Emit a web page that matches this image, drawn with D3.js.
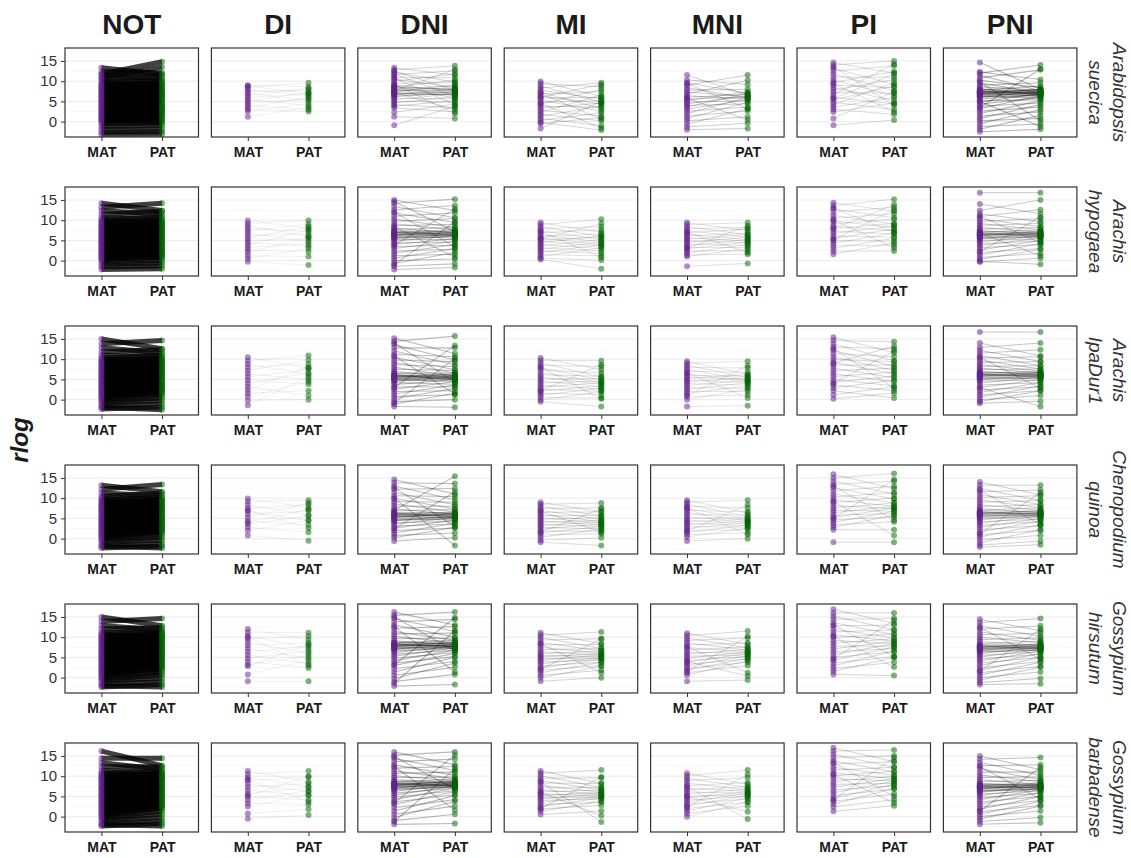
<!DOCTYPE html>
<html>
<head>
<meta charset="utf-8">
<script src="https://cdn.jsdelivr.net/npm/d3@7"></script>
<style>
  body { margin: 0; background: #fff; }
  text { font-family: "Liberation Sans", Arial, sans-serif; }
</style>
</head>
<body>
<script>

// facet columns / rows
var classes = ["NOT", "DI", "DNI", "MI", "MNI", "PI", "PNI"];
var species = [["Arabidopsis", "suecica"], ["Arachis", "hypogaea"], ["Arachis", "IpaDur1"],
               ["Chenopodium", "quinoa"], ["Gossypium", "hirsutum"], ["Gossypium", "barbadense"]];
var parents = ["MAT", "PAT"];
var yTicks = [0, 5, 10, 15];
var yMinor = [-2.5, 2.5, 7.5, 12.5, 17.5];

// approx. number of genes behind each panel (rows = species, cols = classes)
var geneCounts = [
    [16000, 40, 400, 250, 350, 180, 1400],
    [17000, 30, 900, 150, 140, 150, 600],
    [17000, 35, 1000, 150, 120, 220, 700],
    [13000, 30, 900, 180, 120, 200, 500],
    [19000, 40, 1300, 250, 200, 250, 700],
    [19000, 35, 1300, 250, 150, 250, 900]
];

var suecica = [
    "13.3,11.7 12.3,12.1 11.5,10.7 10.7,11.3 10.1,9.9 9.7,10.1 9.3,9.2 9,9.5 8.6,8.9 8.4,8.5 8,8.3 7.8,7.8 7.4,7.6 7.1,7.3 6.9,6.8 6.5,6.9 6.3,6.2 5.9,6.4 5.7,5.7 5.3,5.8 5.1,5 4.8,5.2 4.4,4.6 4.2,4.3 3.9,3.8 3.5,4 3.3,3.2 2.9,3.4 2.7,2.6 2.4,2.9 2,2.1 1.8,2.3 1.5,1.5 1.1,1.6 0.9,0.8 0.6,1 0.2,0.3 0,0 -0.5,-0.4 -1.2,-1 -1.9,-1.8 -2.6,-2.5 -3.2,-3.1 11.8,14.8 10.9,13.5",
    "9,8.6 8.5,9.6 8,6.4 7.5,7.8 7,5.2 6.5,8.2 6,6.8 5.5,4 5,7.2 4.5,5.6 4,3 3.5,6 3,2.5 2.5,4.6 1.2,3.5 8.8,7",
    "13.3,11.5 12.8,13.8 12.2,9.8 11.6,12.6 11,10.8 10.5,8.5 10,11.8 9.5,9.6 9,7.6 8.6,10.2 8.2,8.8 7.8,7.2 7.4,9.1 7,6.6 6.6,8 6.2,7.4 5.8,5.6 5.4,6.9 5,4.8 4.6,6.2 4.2,3.4 3.8,5.2 3.4,2.4 2.3,4.3 1.2,0.8 -0.9,3.8 7.6,12.9 9.2,2 11.8,6.2 12.5,7.7 8.8,5.8 7.2,3 10.8,4.2 7.9,7.6 7.5,8 7.2,7.1 6.8,7.4 8.3,8.1 6.5,6.8 8.6,7.9 7,6.6 7.7,8.4 6.2,7",
    "9.9,6.2 9.4,8.6 8.8,4.8 8.3,9.6 7.8,5.6 7.3,3.2 6.8,7.4 6.3,4.4 5.8,6 5.3,2.6 4.8,5.2 4.3,8 3.8,3.6 3.3,4.6 2.8,1.4 2.3,6.6 1.8,0.2 1.3,3.9 0.8,-1 0.3,2.2 -0.2,-2.1 -0.5,1 -1.7,5 6,9.2 4.5,-1.6 7,0.6",
    "11.5,6.5 10.3,9.2 9.6,7 9,11.5 8.4,5.8 7.8,8 7.3,6.2 6.8,10.2 6.4,5.6 6,6.8 5.6,6 5.2,7.4 4.8,5.2 4.4,6.4 4,4.4 3.6,7 3.1,5.4 2.6,3.6 2,6 1.4,2.6 0.8,4.8 0.2,1.2 -0.6,3.2 -1.3,-0.4 -2,-1.7 9.4,3.2 5.8,0.4",
    "14.6,12 14,15 13.2,9.2 12.5,13.8 11.8,7.6 11,11 10.3,6.4 9.7,12.4 9,8.4 8.4,5.2 7.8,10.4 7.2,7 6.6,14.2 6,4.4 5.4,8.8 4.8,3 4.2,9.6 3.6,6 3,1.8 2.4,4.6 0.8,7.4 -0.9,0.4 13.5,4 9.4,2.4 5.7,11.8",
    "14.6,8 12.3,10.4 11.5,7.6 10.8,12.8 10.2,8.4 9.6,7 9,9.6 8.6,7.8 8.2,6.6 7.8,8.8 7.5,7.2 7.2,6.2 6.9,8 6.6,7 6.3,5.8 6,7.6 5.6,6.6 5.2,5.4 4.8,7 4.3,6 3.8,4.6 3.2,6.4 2.6,3.6 2,5.2 1.4,2.4 0.8,4.2 0.2,0.8 -0.5,3 -1.2,-0.6 -1.9,1.6 -2.5,-1.9 12,14 3.5,13 9.8,0.2 5,-1.2 7.3,7.1 7,7.4 7.6,7.5 6.7,6.9 7.9,7.7 6.4,6.7 7.2,7.9 7.5,6.8 6.1,6.5 6.9,7.2"
];
var hypogaea = [
    "14.2,12.4 13.2,14.2 12.3,11.5 11.4,12.2 10.6,10.5 10.1,10.9 9.7,9.6 9.4,9.9 9,9.1 8.7,9.3 8.4,8.5 8,8.8 7.8,7.9 7.4,8.1 7.2,7.3 6.8,7.5 6.6,6.7 6.2,6.9 6,6.1 5.6,6.3 5.4,5.5 5,5.7 4.8,4.9 4.4,5.1 4.2,4.3 3.8,4.5 3.6,3.7 3.2,3.9 3,3.1 2.6,3.3 2.4,2.5 2,2.7 1.8,1.9 1.4,2.1 1.2,1.3 0.8,1.5 0.5,0.7 0.2,0.9 -0.3,0 -0.9,-0.6 -1.5,-1.3 -2.2,-2",
    "9.9,8 9.2,9.9 8.6,6 8,7.2 7.4,9 6.8,4.8 6.2,6.6 5.6,8.4 5,5.4 4.4,3.6 3.8,7.6 3.2,4.2 2.6,2.2 2,5.8 1.2,1 -0.3,-1.1 0.5,3",
    "15,12.4 14.2,15.2 13.4,10.6 12.6,13.6 11.8,9.4 11,11.8 10.3,8.2 9.7,10.4 9.1,7.6 8.6,9 8.1,6.8 7.7,8.2 7.3,6.4 6.9,7.6 6.5,6 6.2,7 5.9,5.6 5.6,6.6 5.2,5.2 4.8,6.2 4.4,4.6 4,5.4 3.5,3.8 3,4.8 2.4,2.8 1.8,4 1.2,1.6 0.6,3 0,0.4 -0.7,2 -1.4,-0.8 -2.2,-1.7 14.6,7.2 -1,9.6 12,3.4 3.8,12.8 8.4,0.8 6.8,6.5 6.4,6.9 7.1,6.8 6.1,6.3 7.4,7.2 5.8,6.1 6.6,7.3 7,6.2 5.5,5.9 6.3,6.6",
    "9.4,7 8.9,10.2 8.4,6 7.9,8.4 7.4,5.2 6.9,7.6 6.4,4.6 6,6.6 5.6,4 5.2,5.8 4.8,3.6 4.4,6.2 4,3 3.6,5.2 3.2,2.4 2.8,4.6 2.4,1.8 2,4 1.5,1.2 1,3.2 0.6,0.1 0.3,-2 5.4,9.2 7.2,0.8",
    "9.4,7.4 8.9,9.4 8.4,6.4 7.9,8.2 7.4,5.8 6.9,7.8 6.5,5.2 6.1,6.8 5.7,4.8 5.3,6.4 4.9,4.4 4.5,5.8 4.1,3.8 3.7,5.2 3.3,3.2 2.9,4.6 2.4,2.4 1.9,4 1.4,1.6 1,3 -1.4,-0.7 7,2 3,8.6",
    "14.3,12.2 13.6,15.2 12.8,10.6 12,13.2 11.2,9 10.5,11.6 9.8,8.2 9.1,10.2 8.5,7.4 7.9,9.2 7.3,6.6 6.7,8.6 6.1,5.8 5.5,7.8 4.9,4.8 4.3,6.8 3.7,3.8 3,5.6 2.3,2.4 1.6,4.4 13,7 8,13.8 5.2,12.6 10,3.2",
    "16.8,16.8 14,11.6 12.4,15 11.6,9.6 10.9,12.6 10.3,8.4 9.7,10.4 9.2,7.6 8.7,9.2 8.2,7 7.8,8.2 7.4,6.6 7,7.6 6.6,6.2 6.2,7.2 5.8,5.8 5.4,6.8 5,5.4 4.6,6.2 4.2,4.8 3.7,5.6 3.2,4 2.6,5 2,3 1.4,4.2 0.8,1.8 0.3,2.8 -0.3,0.6 -0.2,-0.9 11,4.4 2.2,10.8 6.8,1.2 6.6,6.4 6.3,6.8 6.9,6.7 6,6.2 7.2,7 5.7,6 6.5,7.1 6.8,6.1 5.4,5.8 6.2,6.5"
];
var ipadur = [
    "15,12.6 13.8,14.6 12.8,11.6 11.8,12.4 11,10.7 10.3,11.1 9.9,9.9 9.5,10.2 9.2,9.4 8.8,9.6 8.5,8.8 8.2,9 7.9,8.2 7.5,8.4 7.2,7.6 6.9,7.8 6.6,7 6.2,7.2 5.9,6.4 5.6,6.6 5.3,5.8 4.9,6 4.6,5.2 4.3,5.4 4,4.6 3.6,4.8 3.3,4 3,4.2 2.7,3.4 2.3,3.6 2,2.8 1.7,3 1.4,2.2 1,2.4 0.7,1.6 0.4,1.8 0,1 -0.4,0.4 -0.9,-0.3 -1.5,-1.1 -2.3,-1.8 -1.9,-2.5",
    "10.5,7.8 9.6,10.9 8.8,6.2 8,8.8 7.2,9.8 6.4,5 5.6,7.4 4.8,3.8 4,6.6 3.2,1 2.4,8 1.6,2.2 0.8,4.4 -0.2,0 -1.4,5.6",
    "15.2,11.4 14.4,15.7 13.6,9.8 12.8,12.8 12,8.6 11.2,10.6 10.5,7.4 9.8,9.4 9.2,6.6 8.6,8.2 8,5.8 7.5,7.2 7,5.4 6.6,6.6 6.2,4.8 5.8,6 5.4,5.2 5,4.4 4.6,5.6 4.2,3.8 3.7,5 3.2,3.2 2.6,4.4 2,2.2 1.4,3.6 0.8,1.2 0.2,2.8 -0.5,0 -1.1,1.6 -1.7,-1.9 14,4.4 -0.8,10.2 10.8,1.4 3,13.4 5.8,5.5 5.5,5.9 6.1,5.8 5.2,5.4 6.4,6.2 4.9,5.1 5.7,6.4 6,5.2 4.6,4.9 5.3,5.7",
    "10.3,7.4 9.7,9.6 9.1,5.6 8.5,8.2 7.9,4.8 7.3,6.6 6.7,4.2 6.1,5.8 5.6,3.8 5.1,5.2 4.6,3.2 4.1,4.6 3.6,2.6 3.1,4.2 2.6,2 2.1,3.4 1.6,1.2 1.1,2.8 0.5,0.4 -0.1,2 -0.5,-1.7 8,0.2 2.2,8.6",
    "9.5,6.2 9,9.5 8.5,5.4 8,7.8 7.5,4.8 7,6.8 6.5,4.4 6,5.8 5.6,5 5.2,6.2 4.8,4.2 4.4,5.4 4,3.6 3.5,4.8 3,2.8 2.5,4.2 2,2 1.5,3.4 0.8,1.2 0,2.6 -1.7,-1.5 6.6,0.4 1,8.4",
    "15.4,11.6 14.6,14.3 13.8,9.6 13,12.6 12.2,8.2 11.4,10.6 10.6,7.2 9.9,9.4 9.2,6.4 8.5,8.6 7.8,5.4 7.1,7.8 6.4,4.4 5.7,6.8 5,3.4 4.3,5.8 3.6,2.2 2.9,4.8 2.2,0.4 1.2,3.2 0.2,1.6 12.6,2.8 4,12 9,13.2",
    "16.7,16.7 14,10.8 12.9,14 12.2,9.4 11.5,12.3 10.9,8.4 10.3,10.6 9.7,7.6 9.2,9.4 8.7,7 8.2,8.4 7.8,6.6 7.4,7.6 7,6.2 6.6,7 6.2,5.8 5.8,6.6 5.4,5.2 5,6 4.6,4.8 4.1,5.6 3.6,4.2 3,5 2.4,3.2 1.8,4.2 1.2,2.2 0.6,3.4 0,1 -0.5,2.2 -0.9,-0.4 3,-1.7 10.5,2.8 6.2,6 5.9,6.3 6.5,6.2 5.6,5.8 6.8,6.6 5.3,5.6 6.1,6.7 6.4,5.6 5,5.4 5.8,6.1"
];
var quinoa = [
    "13.2,11.6 12.2,13.4 11.3,10.6 10.5,11.2 9.9,9.7 9.5,10.1 9.2,9.3 8.8,9.5 8.5,8.7 8.2,8.9 7.9,8.1 7.5,8.3 7.2,7.5 6.9,7.7 6.6,6.9 6.2,7.1 5.9,6.3 5.6,6.5 5.3,5.7 4.9,5.9 4.6,5.1 4.3,5.3 4,4.5 3.6,4.7 3.3,3.9 3,4.1 2.7,3.3 2.3,3.5 2,2.7 1.7,2.9 1.4,2.1 1,2.3 0.7,1.5 0.4,1.7 0,0.9 -0.4,0.3 -0.9,-0.4 -1.6,-1.2 -2.3,-1.8 -1.9,-2.3",
    "9.9,7.6 9.2,9.5 8.4,5.8 7.6,8.4 6.8,4.4 6,6.8 5.2,8.8 4.4,3.4 3.6,5.6 2.8,1.6 2,4.6 0.8,-0.5 7,2.6 4,7.2",
    "14.6,11 13.8,13.6 13,9.6 12.2,12.4 11.4,8.4 10.6,10.4 9.9,7.4 9.2,9 8.6,6.6 8,8 7.4,6 6.9,7.2 6.4,5.4 6,6.6 5.6,5 5.2,6.2 4.8,4.6 4.4,5.6 4,4.2 3.6,5.2 3.1,3.6 2.6,4.6 2,2.6 1.4,3.8 0.8,1.4 0.2,2.8 -0.6,0.2 7,15.4 10,-1.7 12.6,3 2.4,11.6 5.9,5.6 5.5,6 6.2,5.9 5.1,5.3 6.5,6.3 4.8,5.2 5.7,6.3 6.1,5.3 4.5,4.9 5.4,5.8",
    "9,6.6 8.5,8.8 8,5.6 7.5,7.6 7,4.8 6.5,6.6 6,4.2 5.6,5.8 5.2,3.8 4.8,5.2 4.4,3.4 4,4.6 3.6,3 3.2,4.2 2.8,2.4 2.4,3.6 1.9,1.8 1.4,3 0.9,1.2 0.3,2.4 -0.4,0.2 -0.9,-1.7 6.8,1.6 1.6,7.4",
    "9.5,6.4 9,9.5 8.5,5.4 8,7.6 7.5,4.8 7,6.6 6.5,4.4 6,5.8 5.5,4 5,5.2 4.6,3.6 4.2,4.8 3.8,3.2 3.4,4.4 3,2.8 2.5,4 2,2.2 1.5,3.4 1,1.4 0.4,2.6 -0.6,0 7.6,1 1.8,8.4",
    "15.9,12.4 15,16.1 14.2,11 13.4,14.2 12.6,9.8 11.8,13 11,8.8 10.3,11.4 9.6,8 8.9,10 8.2,7.4 7.6,8.8 7,6.8 6.4,8 5.8,6.2 5.2,7.6 4.6,5.4 4,6.8 3.4,4.2 2.8,5.8 2.2,2.2 -0.9,-0.9 13,4.6 5,14.6 9.2,0.8",
    "14,10.8 13.2,13.2 12.4,9.4 11.6,12 10.9,8.4 10.2,10.6 9.6,7.6 9,9.4 8.4,7 7.9,8.4 7.4,6.4 7,7.6 6.6,6 6.2,7 5.8,5.6 5.4,6.4 5,5.2 4.6,6 4.2,4.8 3.8,5.6 3.3,4.2 2.8,5 2.2,3.2 1.6,4.4 1,2 0.4,3.4 -0.3,0.8 -1,2.2 -1.6,-0.6 -2.1,-1.5 12,3.4 1.2,11.4 6.3,6.1 6,6.4 6.6,6.3 5.7,5.9 6.9,6.7 5.4,5.7 6.2,6.8 6.5,5.7 5.1,5.5 5.9,6.2"
];
var hirsutum = [
    "15,12.8 13.9,14.6 12.9,11.8 12,12.4 11.2,11.1 10.7,11.3 10.4,10.5 10,10.8 9.7,9.9 9.4,10.2 9,9.4 8.7,9.6 8.4,8.8 8,9 7.7,8.2 7.4,8.4 7,7.6 6.7,7.8 6.4,7 6,7.2 5.7,6.4 5.4,6.6 5,5.8 4.7,6 4.4,5.2 4,5.4 3.7,4.6 3.4,4.8 3,4 2.7,4.2 2.4,3.4 2,3.6 1.7,2.8 1.4,3 1,2.2 0.7,2.4 0.4,1.6 0,1.1 -0.4,0.5 -0.9,-0.2 -1.5,-1 -2.3,-1.7 -2,-2.3",
    "12,9.4 11.2,11.1 10.4,7.2 9.6,10.2 8.8,6 8,8.6 7.2,4.8 6.4,7.8 5.6,3.4 4.8,6.6 4,2.4 3.2,5.4 2.8,8.2 0.8,4.2 -0.9,-0.9 10,3",
    "16.2,13 15.4,16.2 14.6,11.4 13.8,14.4 13,10 12.2,12.6 11.4,9.2 10.8,11 10.2,8.6 9.6,9.8 9.1,8.2 8.6,9.2 8.2,7.8 7.8,8.6 7.4,7.6 7,8.2 6.6,7.2 6.2,7.8 5.8,6.8 5.3,7.4 4.8,6.2 4.2,6.8 3.6,5.2 3,6 2.2,4 1.4,5 0.6,2.6 -0.2,3.6 -1,0.8 -2.1,-1.7 15,6.6 -1.4,11.6 12.6,1.4 3.2,14.8 8.1,7.9 7.8,8.2 8.4,8.3 7.5,7.7 8.7,8.5 7.2,7.5 8,8.8 8.3,7.6 7,7.3 7.7,8",
    "11.1,8.4 10.5,11.3 9.9,7.2 9.3,9.6 8.7,6.6 8.1,8.2 7.5,6 6.9,7.2 6.4,5.6 5.9,6.6 5.5,5.2 5.1,6 4.7,4.8 4.3,5.6 3.9,4.4 3.4,5 2.9,3.8 2.4,4.6 1.8,3 1.2,3.8 0.6,1.8 0,2.8 -0.9,0 8.4,1.2 2,9.6",
    "11,8.2 10.4,11.5 9.8,7.4 9.2,9.8 8.6,6.8 8,8.6 7.4,6.4 6.8,7.6 6.3,6 5.8,7 5.3,5.6 4.8,6.4 4.3,5.2 3.8,6 3.3,4.6 2.8,5.4 2.3,3.8 1.8,4.8 1.2,3 0.6,4.2 -0.9,-0.6 7.6,1.2 4,0.4 1.5,10.2",
    "16.9,13.4 16,16 15.2,11.8 14.4,14.6 13.6,10.6 12.8,13 12,9.8 11.3,11.8 10.6,9 9.9,10.8 9.2,8.4 8.5,9.6 7.8,7.8 7.1,9 6.4,7.2 5.7,8.4 5,6.4 4.3,7.6 3.6,5.2 2.9,6.6 2.2,3.8 1.5,5 0.8,0.5 13,5.2 4.6,14.2 10.2,2.6",
    "14.4,11.6 13.6,14.6 12.8,10.2 12,12.8 11.3,9.2 10.6,11 10,8.6 9.4,9.8 8.9,8 8.4,9 7.9,7.6 7.5,8.4 7.1,7.2 6.7,8 6.3,6.8 5.9,7.6 5.5,6.4 5.1,7 4.6,5.8 4.1,6.6 3.6,5 3,6 2.4,4 1.8,5 1.2,2.8 0.6,3.8 0,1.4 -0.6,2.6 -1.2,-0.2 -1.7,-1.5 12.4,4.6 1.6,12 7.6,7.4 7.3,7.7 7.9,7.8 7,7.2 8.2,8 6.7,7 7.5,8.2 7.8,7.1 6.4,6.8 7.2,7.5"
];
var barbadense = [
    "16.2,12.6 14.4,14.4 13.3,11.7 12.3,12.3 11.4,10.9 10.8,11.2 10.4,10.3 10,10.6 9.7,9.7 9.3,10 9,9.2 8.6,9.4 8.3,8.6 7.9,8.8 7.6,8 7.2,8.2 6.9,7.4 6.5,7.6 6.2,6.8 5.8,7 5.5,6.2 5.1,6.4 4.8,5.6 4.4,5.8 4.1,5 3.7,5.2 3.4,4.4 3,4.6 2.7,3.8 2.3,4 2,3.2 1.6,3.4 1.3,2.6 0.9,2.8 0.6,2 0.2,2.2 -0.2,1.3 -0.6,0.6 -1.1,-0.2 -1.7,-1 -2.3,-1.7 -2,-2.3",
    "11.3,8.6 10.5,11.3 9.7,7.4 8.9,9.8 8.1,6.2 7.3,8.2 6.5,5.2 5.7,7.2 4.9,4.2 4.1,6.4 3.3,3 2.5,5.4 0.8,1.8 -0.5,0.4 9.2,3.6 5.2,10",
    "16,12.8 15.2,16 14.4,11.4 13.6,14.2 12.8,10.2 12,12.4 11.3,9.4 10.7,11 10.1,8.8 9.6,9.8 9.1,8.4 8.6,9.2 8.2,8 7.8,8.8 7.4,7.8 7,8.4 6.6,7.4 6.2,8 5.8,7 5.3,7.6 4.8,6.4 4.2,7 3.6,5.4 3,6.2 2.2,4.2 1.4,5.2 0.6,2.6 -0.2,3.8 -1,0.6 -1.9,-1.7 14.8,6.8 -1.2,11.8 12.4,1.6 3.4,15.2 8,7.8 7.7,8.1 8.3,8.2 7.4,7.6 8.6,8.4 7.1,7.4 7.9,8.7 8.2,7.5 6.9,7.2 7.6,7.9",
    "11.3,8.2 10.7,11.5 10.1,7.2 9.5,9.6 8.9,6.6 8.3,8.2 7.7,6 7.1,7.2 6.6,5.6 6.1,6.6 5.6,5.2 5.2,6 4.8,4.8 4.4,5.6 4,4.4 3.5,5 3,3.6 2.5,4.6 1.9,2.8 1.3,3.8 0.5,1.4 8.6,-1.3 2,9.8 6,0.2",
    "10.7,8 10.1,11.5 9.5,7.2 8.9,9.6 8.3,6.6 7.7,8.4 7.1,6.2 6.6,7.4 6.1,5.8 5.6,6.8 5.1,5.4 4.6,6.2 4.1,5 3.6,5.8 3.1,4.4 2.6,5.2 2,3.6 1.4,4.6 0.8,2.6 0,3.6 7.4,-0.6 2.4,10.4 5,1.2",
    "17,13.6 16.2,16.5 15.4,12.2 14.6,15 13.8,11 13,13.6 12.2,10.2 11.5,12.2 10.8,9.4 10.1,11.2 9.4,8.8 8.7,10 8,8.2 7.3,9.4 6.6,7.6 5.9,8.8 5.2,6.8 4.5,8 3.8,5.6 3.1,7 2.4,4.2 1.3,2.7 13.4,5 4.2,14.6 10.4,3.4",
    "15,11.6 14.2,14.6 13.4,10.2 12.6,12.8 11.8,9.2 11,11 10.3,8.6 9.7,9.8 9.1,8 8.6,9 8.1,7.6 7.6,8.4 7.2,7.2 6.8,8 6.4,6.8 6,7.6 5.6,6.4 5.2,7 4.7,5.8 4.2,6.6 3.6,5 3,6 2.4,4 1.8,5 1.2,2.8 0.6,3.8 0,1.4 -0.6,2.6 -1.2,-0.2 -1.9,-1.5 12.4,4.4 1.4,12.2 7.5,7.3 7.2,7.6 7.8,7.7 6.9,7.1 8.1,7.9 6.6,6.9 7.4,8.1 7.7,7 6.3,6.7 7.1,7.4"
];

var pairsBySpecies = [suecica, hypogaea, ipadur, quinoa, hirsutum, barbadense];
var parentColors = {"MAT": "#62208c", "PAT": "#006400"};

function parsePairs(s) {
    return s.trim().split(/\s+/).map(function(tok) {
        var v = tok.split(",");
        return {MAT: +v[0], PAT: +v[1]};
    });
}

// Specify the dimensions of the chart.
const width = 1131;
const height = 858;
const panelLeft = 65;
const panelTop = 48;
const panelW = 133.5;
const panelH = 89;
const colStep = 146.4;
const rowStep = 139;

const x = d3.scalePoint()
    .domain(parents)
    .range([0, panelW])
    .padding(0.6);

const y = d3.scaleLinear()
    .domain([-3.8, 18.2])
    .range([panelH, 0]);

// each drawn pair stands for (genes / pairs) genes -> heavier, darker line
const lineWidth = d3.scaleLog().domain([3, 40, 300]).range([0.6, 1.2, 5]).clamp(true);
const lineOpacity = d3.scaleLog().domain([2.5, 40, 300]).range([0.1, 0.3, 0.75]).clamp(true);

const svg = d3.create("svg")
    .attr("width", width)
    .attr("height", height)
    .attr("viewBox", [0, 0, width, height]);

document.body.appendChild(svg.node());

svg.append("rect").attr("width", width).attr("height", height).attr("fill", "#fff");

// column titles
svg.append("g")
    .selectAll("text")
    .data(classes)
    .join("text")
    .attr("x", (d, i) => panelLeft + i * colStep + panelW / 2)
    .attr("y", 34)
    .attr("text-anchor", "middle")
    .attr("font-size", 28)
    .attr("font-weight", "bold")
    .attr("fill", "#1a1a1a")
    .text(d => d);

pairsBySpecies.forEach(function(row, r) {

    row.forEach(function(str, c) {
        var data = parsePairs(str);
        var w = geneCounts[r][c] / data.length;

        var g = svg.append("g")
            .attr("transform", `translate(${panelLeft + c * colStep},${panelTop + r * rowStep})`);

        // grid
        g.append("g")
            .selectAll("line")
            .data(yMinor)
            .join("line")
            .attr("x1", 0).attr("x2", panelW)
            .attr("y1", d => y(d)).attr("y2", d => y(d))
            .attr("stroke", "#f3f3f3")
            .attr("stroke-width", 0.6);

        g.append("g")
            .selectAll("line")
            .data(yTicks)
            .join("line")
            .attr("x1", 0).attr("x2", panelW)
            .attr("y1", d => y(d)).attr("y2", d => y(d))
            .attr("stroke", "#e8e8e8")
            .attr("stroke-width", 0.9);

        // connecting lines
        g.append("g")
            .attr("stroke", "#000")
            .attr("stroke-opacity", lineOpacity(w))
            .attr("stroke-width", lineWidth(w))
            .selectAll("line")
            .data(data)
            .join("line")
            .attr("x1", x("MAT"))
            .attr("x2", x("PAT"))
            .attr("y1", d => y(d.MAT))
            .attr("y2", d => y(d.PAT));

        // points
        parents.forEach(function(p) {
            g.append("g")
                .attr("fill", parentColors[p])
                .attr("fill-opacity", 0.5)
                .selectAll("circle")
                .data(data)
                .join("circle")
                .attr("cx", x(p))
                .attr("cy", d => y(d[p]))
                .attr("r", 3);
        });

        // panel border
        g.append("rect")
            .attr("width", panelW)
            .attr("height", panelH)
            .attr("fill", "none")
            .attr("stroke", "#333")
            .attr("stroke-width", 1.2);

        // x axis
        g.append("g")
            .attr("transform", `translate(0,${panelH})`)
            .call(d3.axisBottom(x).tickSize(4).tickPadding(6))
            .call(a => a.select(".domain").remove())
            .call(a => a.selectAll(".tick line").attr("stroke", "#333"))
            .call(a => a.selectAll(".tick text")
                .attr("font-size", 14)
                .attr("font-weight", "bold")
                .attr("font-family", "Liberation Sans, Arial, sans-serif")
                .attr("fill", "#1a1a1a"));

        if (c === 0) {
            g.append("g")
                .call(d3.axisLeft(y).tickValues(yTicks).tickSize(4).tickPadding(4))
                .call(a => a.select(".domain").remove())
                .call(a => a.selectAll(".tick line").attr("stroke", "#333"))
                .call(a => a.selectAll(".tick text")
                    .attr("font-size", 15)
                    .attr("font-family", "Liberation Sans, Arial, sans-serif")
                    .attr("fill", "#333"));
        }
    });

    // species strip label on the right
    var cy = panelTop + r * rowStep + panelH / 2;
    var strip = svg.append("text")
        .attr("transform", `translate(1108,${cy}) rotate(90)`)
        .attr("text-anchor", "middle")
        .attr("font-size", 19)
        .attr("font-style", "italic")
        .attr("fill", "#333");
    strip.append("tspan").attr("x", 0).attr("y", -5).text(species[r][0]);
    strip.append("tspan").attr("x", 0).attr("y", 19).text(species[r][1]);
});

// y axis title
svg.append("text")
    .attr("transform", `translate(28,${panelTop + (5 * rowStep + panelH) / 2}) rotate(-90)`)
    .attr("text-anchor", "middle")
    .attr("font-size", 24)
    .attr("font-weight", "bold")
    .attr("font-style", "italic")
    .attr("fill", "#1a1a1a")
    .text("rlog");

</script>
</body>
</html>
